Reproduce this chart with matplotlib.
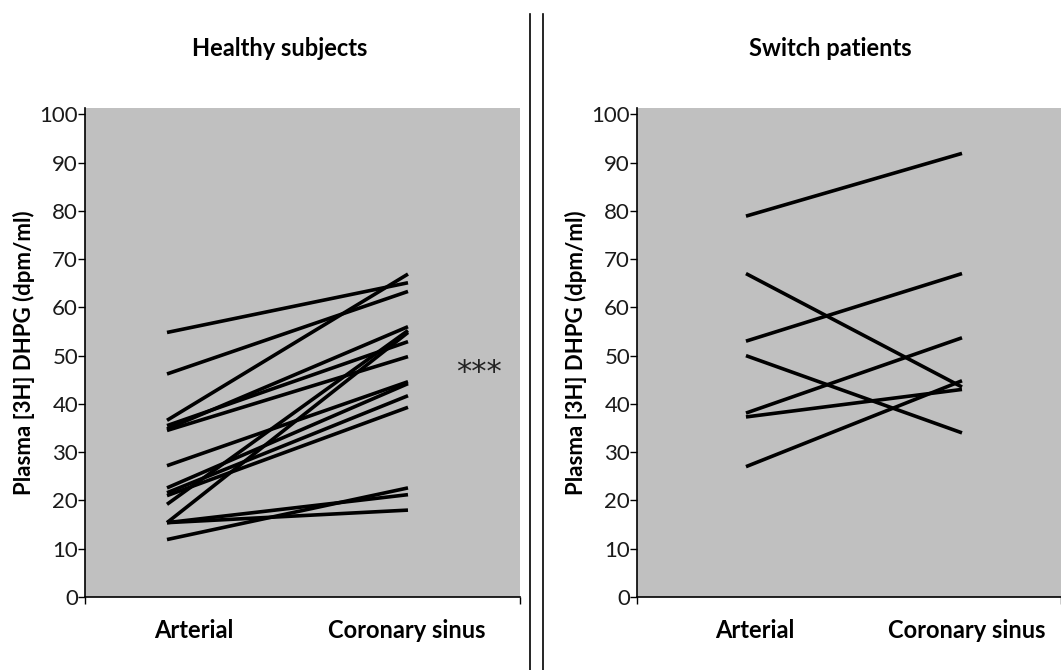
import numpy as np
import matplotlib.pyplot as plt

plt.rcParams['font.family'] = ['Lato', 'DejaVu Sans']

# Healthy subjects: arterial -> coronary sinus (dpm/ml)
healthy_arterial = [54.8, 46.2, 36.6, 35.5, 34.5, 34.8, 27.2, 22.6, 21.6, 21.0, 19.2, 15.4, 15.4, 15.4, 11.9]
healthy_sinus = [65.1, 63.3, 66.9, 52.9, 49.8, 56.0, 44.6, 44.2, 41.7, 39.3, 55.2, 54.8, 21.2, 18.0, 22.6]

# Switch patients
switch_arterial = [78.9, 67.0, 53.0, 50.0, 38.1, 37.3, 27.0]
switch_sinus = [91.9, 43.5, 67.0, 34.0, 53.7, 43.0, 44.8]

categories = ['Arterial', 'Coronary sinus']
yticks = list(range(0, 101, 10))
ylabel = 'Plasma [3H] DHPG (dpm/ml)'
gray = '#c0c0c0'

W, H = 1061, 670
fig = plt.figure(figsize=(W / 100, H / 100), dpi=100)


def px_axes(x0, x1, ytop, ybot):
    return fig.add_axes([x0 / W, 1 - ybot / H, (x1 - x0) / W, (ybot - ytop) / H])


def style(ax, label_pos):
    ax.set_facecolor(gray)
    ax.set_xlim(0, 2)
    ax.set_ylim(0, 101.3)
    for s in ['top', 'right']:
        ax.spines[s].set_visible(False)
    ax.spines['left'].set_linewidth(1.2)
    ax.spines['bottom'].set_linewidth(1.2)
    ax.set_yticks(yticks)
    ax.set_yticklabels([str(v) for v in yticks], fontsize=16, color='#1a1a1a')
    ax.tick_params(axis='y', direction='out', length=5, width=1, pad=0)
    ax.set_xticks([0, 2])
    ax.set_xticklabels(['', ''])
    ax.tick_params(axis='x', direction='out', length=5, width=1)
    ax.set_xticks(label_pos, minor=True)
    ax.set_xticklabels(categories, minor=True, fontsize=17, fontweight='bold')
    ax.tick_params(axis='x', which='minor', length=0, pad=16)
    ax.set_ylabel(ylabel, fontsize=16, fontweight='bold', labelpad=3)


# left panel
ax1 = px_axes(85, 520, 108, 597)
style(ax1, [0.5, 1.48])
for a, b in zip(healthy_arterial, healthy_sinus):
    ax1.plot([0.377, 1.485], [a, b], color='black', lw=2.6, solid_capstyle='butt')
ax1.text(1.81, 46.5, '***', fontsize=22, ha='center', va='center', color='#222222',
         family='DejaVu Sans')

# right panel
ax2 = px_axes(637, 1061, 108, 597)
style(ax2, [0.557, 1.557])
for a, b in zip(switch_arterial, switch_sinus):
    ax2.plot([0.514, 1.533], [a, b], color='black', lw=2.6, solid_capstyle='butt')

fig.text(280 / W, 1 - 48 / H, 'Healthy subjects', fontsize=17, fontweight='bold', ha='center', va='center')
fig.text(830 / W, 1 - 48 / H, 'Switch patients', fontsize=17, fontweight='bold', ha='center', va='center')

# double divider
for xp in [530, 543]:
    fig.add_artist(plt.Line2D([xp / W, xp / W], [0, 1 - 14 / H], color='black', lw=1.2))

fig.savefig('out.png', dpi=100)
